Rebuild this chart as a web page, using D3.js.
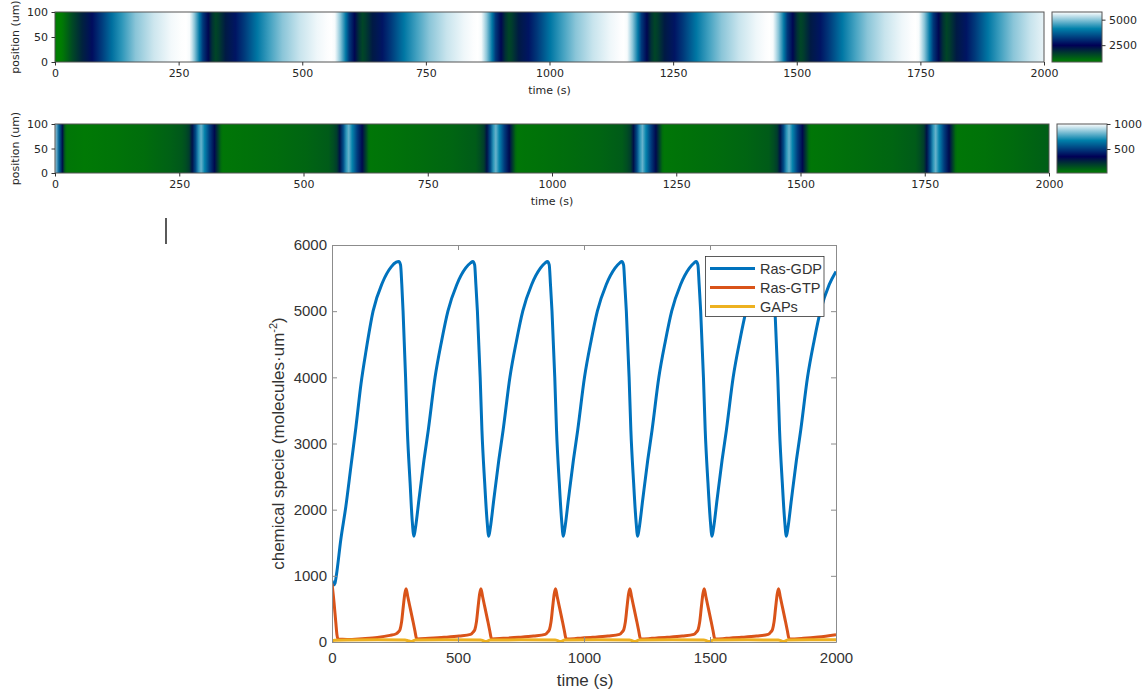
<!DOCTYPE html>
<html>
<head>
<meta charset="utf-8">
<title>Ras oscillations</title>
<script src="https://d3js.org/d3.v7.min.js"></script>
<style>
  body { margin: 0; background: #fff; }
  .mpl text { font-family: "DejaVu Sans", sans-serif; font-size: 11px; fill: #262626; }
  .mat text { font-family: "Liberation Sans", Arial, sans-serif; fill: #333; }
</style>
</head>
<body>
<svg id="fig" width="1147" height="691"></svg>
<script>
// [time (s), molecules/um^2]
const rasGDP = [
  [0,930],[6,860],[12,890],[17,1000],[35,1550],[55,2050],[75,2650],[95,3250],[115,3900],[135,4400],[163,5000],[200,5430],[235,5670],[255,5740],[265,5750],[272,5700],[277,5400],[282,5000],[292,4000],[299,3200],[310,2400],[318,1850],
  [325,1600],[331,1720],[345,2150],[365,2750],[382,3200],[409,4000],[435,4550],[460,5000],[495,5400],[530,5650],[550,5730],[559,5750],[566,5700],[571,5400],[577,5000],[588,4000],[595,3200],[606,2400],[615,1850],
  [622,1600],[628,1720],[642,2150],[662,2750],[679,3200],[706,4000],[732,4550],[757,5000],[792,5400],[827,5650],[846,5730],[855,5750],[862,5700],[867,5400],[873,5000],[884,4000],[891,3200],[902,2400],[911,1850],
  [918,1600],[924,1720],[938,2150],[958,2750],[975,3200],[1002,4000],[1028,4550],[1053,5000],[1088,5400],[1123,5650],[1142,5730],[1150,5750],[1157,5700],[1162,5400],[1168,5000],[1179,4000],[1186,3200],[1197,2400],[1206,1850],
  [1213,1600],[1219,1720],[1233,2150],[1253,2750],[1270,3200],[1297,4000],[1323,4550],[1348,5000],[1383,5400],[1418,5650],[1437,5730],[1445,5750],[1452,5700],[1457,5400],[1463,5000],[1474,4000],[1481,3200],[1492,2400],[1501,1850],
  [1508,1600],[1514,1720],[1528,2150],[1548,2750],[1565,3200],[1592,4000],[1618,4550],[1643,5000],[1678,5400],[1713,5650],[1732,5730],[1740,5750],[1747,5700],[1752,5400],[1758,5000],[1769,4000],[1776,3200],[1787,2400],[1796,1850],
  [1803,1600],[1809,1720],[1823,2150],[1843,2750],[1860,3200],[1887,4000],[1913,4550],[1938,5000],[1973,5400],[2000,5600]
];
const rasGTP = [
  [0,880],[8,600],[15,300],[20,100],[24,45],[60,38],[120,50],[180,68],[230,100],[255,125],[263,150],[270,190],[276,300],[283,540],[289,730],[294,805],[301,680],[311,500],[321,320],[329,170],[334,70],[338,45],
  [385,55],[445,70],[505,90],[550,115],[560,150],[567,190],[573,300],[580,540],[586,730],[591,805],[598,680],[608,500],[618,320],[626,170],[631,70],[635,45],
  [680,55],[740,70],[800,90],[846,115],[856,150],[863,190],[869,300],[876,540],[882,730],[887,805],[894,680],[904,500],[914,320],[922,170],[927,70],[931,45],
  [975,55],[1035,70],[1095,90],[1141,115],[1151,150],[1158,190],[1164,300],[1171,540],[1177,730],[1182,805],[1189,680],[1199,500],[1209,320],[1217,170],[1222,70],[1226,45],
  [1270,55],[1330,70],[1390,90],[1436,115],[1446,150],[1453,190],[1459,300],[1466,540],[1472,730],[1477,805],[1484,680],[1494,500],[1504,320],[1512,170],[1517,70],[1521,45],
  [1565,55],[1625,70],[1685,90],[1731,115],[1741,150],[1748,190],[1754,300],[1761,540],[1767,730],[1772,805],[1779,680],[1789,500],[1799,320],[1807,170],[1812,70],[1816,45],
  [1870,55],[1930,75],[2000,110]
];
const gaps = [
  [0,15],[10,28],[60,32],[180,33],[290,30],[302,20],[313,8],[321,15],[330,30],
  [450,33],[590,30],[600,20],[610,8],[618,15],[627,30],
  [750,33],[886,30],[896,20],[906,8],[914,15],[923,30],
  [1050,33],[1181,30],[1191,20],[1201,8],[1209,15],[1218,30],
  [1350,33],[1476,30],[1486,20],[1496,8],[1504,15],[1513,30],
  [1650,33],[1771,30],[1781,20],[1791,8],[1799,15],[1808,30],
  [1900,33],[2000,34]
];

const heatTicks = [0, 250, 500, 750, 1000, 1250, 1500, 1750, 2000];
const posTicks = [0, 50, 100];
const gdpRange = [850, 5750];
const gdpBarTicks = [2500, 5000];
const gtpRange = [20, 1000];
const gtpBarTicks = [500, 1000];
const lineXTicks = [0, 500, 1000, 1500, 2000];
const lineYTicks = [0, 1000, 2000, 3000, 4000, 5000, 6000];
const seriesNames = ["Ras-GDP", "Ras-GTP", "GAPs"];
const seriesColors = ["#0072bd", "#d95319", "#edb120"];
const oceanColors = ["#008000", "#000055", "#0080aa", "#ffffff"];

const svg = d3.select("#fig");
const defs = svg.append("defs");
const fmt = d3.format("d");

// matplotlib "ocean" colormap, piecewise linear in rgb
function ocean(lo, hi) {
  const r = hi - lo;
  return d3.scaleLinear()
    .domain([lo, lo + r / 3, lo + 2 * r / 3, hi])
    .range(oceanColors)
    .clamp(true);
}

function heatmap(id, data, range, barTicks, box, bar) {
  const g = svg.append("g").attr("class", "mpl");
  const color = ocean(range[0], range[1]);
  const x = d3.scaleLinear().domain([0, 2000]).range([box.x0, box.x1]);
  const y = d3.scaleLinear().domain([0, 100]).range([box.y1, box.y0]);

  // one stop per sample, space is uniform along position
  const grad = defs.append("linearGradient").attr("id", id);
  grad.selectAll("stop").data(data).join("stop")
    .attr("offset", d => (x(d[0]) - box.x0) / (box.x1 - box.x0))
    .attr("stop-color", d => color(d[1]));

  g.append("rect")
    .attr("x", box.x0).attr("y", box.y0)
    .attr("width", box.x1 - box.x0).attr("height", box.y1 - box.y0)
    .attr("fill", `url(#${id})`)
    .attr("stroke", "#555").attr("stroke-width", 1);

  const xa = g.append("g")
    .attr("transform", `translate(0,${box.y1})`)
    .call(d3.axisBottom(x).tickValues(heatTicks).tickFormat(fmt).tickSize(3.5).tickPadding(3.5));
  const ya = g.append("g")
    .attr("transform", `translate(${box.x0},0)`)
    .call(d3.axisLeft(y).tickValues(posTicks).tickFormat(fmt).tickSize(3.5).tickPadding(3.5));
  [xa, ya].forEach(a => {
    a.select(".domain").remove();
    a.selectAll("line").attr("stroke", "#333");
    a.selectAll("text").attr("font-family", null).attr("font-size", null);
  });

  g.append("text")
    .attr("transform", `translate(19,${(box.y0 + box.y1) / 2}) rotate(-90)`)
    .attr("text-anchor", "middle")
    .text("position (um)");
  g.append("text")
    .attr("x", (box.x0 + box.x1) / 2)
    .attr("y", box.y1 + 32)
    .attr("text-anchor", "middle")
    .text("time (s)");

  // colorbar
  const cg = defs.append("linearGradient").attr("id", id + "bar")
    .attr("x1", 0).attr("y1", 1).attr("x2", 0).attr("y2", 0);
  cg.selectAll("stop").data(oceanColors).join("stop")
    .attr("offset", (d, i) => i / 3)
    .attr("stop-color", d => d);
  g.append("rect")
    .attr("x", bar.x0).attr("y", box.y0)
    .attr("width", bar.x1 - bar.x0).attr("height", box.y1 - box.y0)
    .attr("fill", `url(#${id}bar)`)
    .attr("stroke", "#555").attr("stroke-width", 1);
  const cy = d3.scaleLinear().domain(range).range([box.y1, box.y0]);
  const ca = g.append("g")
    .attr("transform", `translate(${bar.x1},0)`)
    .call(d3.axisRight(cy).tickValues(barTicks).tickFormat(fmt).tickSize(3.5).tickPadding(3.5));
  ca.select(".domain").remove();
  ca.selectAll("line").attr("stroke", "#333");
  ca.selectAll("text").attr("font-family", null).attr("font-size", null);
}

heatmap("gdp", rasGDP, gdpRange, gdpBarTicks,
  { x0: 55, x1: 1044, y0: 12, y1: 62 }, { x0: 1052, x1: 1102 });
heatmap("gtp", rasGTP, gtpRange, gtpBarTicks,
  { x0: 55, x1: 1049, y0: 124, y1: 173 }, { x0: 1057, x1: 1107 });

// stray text cursor in the screenshot
svg.append("line")
  .attr("x1", 166).attr("x2", 166).attr("y1", 218).attr("y2", 244)
  .attr("stroke", "#000").attr("stroke-width", 1.3);

// ---- time course (MATLAB style) ----
const L = { x0: 332, x1: 836, y0: 245, y1: 642 };
const mg = svg.append("g").attr("class", "mat");
const lx = d3.scaleLinear().domain([0, 2000]).range([L.x0, L.x1]);
const ly = d3.scaleLinear().domain([0, 6000]).range([L.y1, L.y0]);

defs.append("clipPath").attr("id", "plotclip")
  .append("rect")
  .attr("x", L.x0).attr("y", L.y0)
  .attr("width", L.x1 - L.x0).attr("height", L.y1 - L.y0);

const line = d3.line()
  .x(d => lx(d[0]))
  .y(d => ly(d[1]))
  .curve(d3.curveMonotoneX);

const lines = mg.append("g").attr("clip-path", "url(#plotclip)");
[rasGDP, rasGTP, gaps].forEach((s, i) => {
  lines.append("path")
    .datum(s)
    .attr("fill", "none")
    .attr("stroke", seriesColors[i])
    .attr("stroke-width", 3)
    .attr("stroke-linejoin", "round")
    .attr("d", line);
});

function styleAxis(a, size) {
  a.select(".domain").attr("stroke", "#8c8c8c");
  a.selectAll(".tick line").attr("stroke", "#8c8c8c");
  a.selectAll("text").attr("font-family", null).attr("font-size", size).attr("fill", "#333");
}

styleAxis(mg.append("g").attr("transform", `translate(0,${L.y1})`)
  .call(d3.axisBottom(lx).tickValues(lineXTicks).tickFormat(fmt).tickSize(-5).tickSizeOuter(0).tickPadding(10)), 15);
styleAxis(mg.append("g").attr("transform", `translate(0,${L.y0})`)
  .call(d3.axisTop(lx).tickValues(lineXTicks).tickSize(-5).tickSizeOuter(0).tickFormat("")), 15);
styleAxis(mg.append("g").attr("transform", `translate(${L.x0},0)`)
  .call(d3.axisLeft(ly).tickValues(lineYTicks).tickFormat(fmt).tickSize(-5).tickSizeOuter(0).tickPadding(5)), 15);
styleAxis(mg.append("g").attr("transform", `translate(${L.x1},0)`)
  .call(d3.axisRight(ly).tickValues(lineYTicks).tickSize(-5).tickSizeOuter(0).tickFormat("")), 15);

mg.append("text")
  .attr("x", (L.x0 + L.x1) / 2 + 1)
  .attr("y", 686)
  .attr("text-anchor", "middle")
  .attr("font-size", 17)
  .text("time (s)");

const yl = mg.append("text")
  .attr("transform", `translate(284,${(L.y0 + L.y1) / 2}) rotate(-90)`)
  .attr("text-anchor", "middle")
  .attr("font-size", 17);
yl.append("tspan").text("chemical specie (molecules\u00b7um");
yl.append("tspan").attr("font-size", 11).attr("dy", -7).text("-2");
yl.append("tspan").attr("dy", 7).text(")");

// legend
const lg = mg.append("g");
lg.append("rect")
  .attr("x", 705.5).attr("y", 256.5).attr("width", 118.5).attr("height", 60)
  .attr("fill", "#fff").attr("stroke", "#333").attr("stroke-width", 0.8);
seriesNames.forEach((name, i) => {
  const yy = 268.5 + i * 19;
  lg.append("line")
    .attr("x1", 710).attr("x2", 755).attr("y1", yy).attr("y2", yy)
    .attr("stroke", seriesColors[i]).attr("stroke-width", 3);
  lg.append("text")
    .attr("x", 760).attr("y", yy).attr("dy", "0.35em")
    .attr("font-size", 14.5).attr("fill", "#262626")
    .text(name);
});
</script>
</body>
</html>
